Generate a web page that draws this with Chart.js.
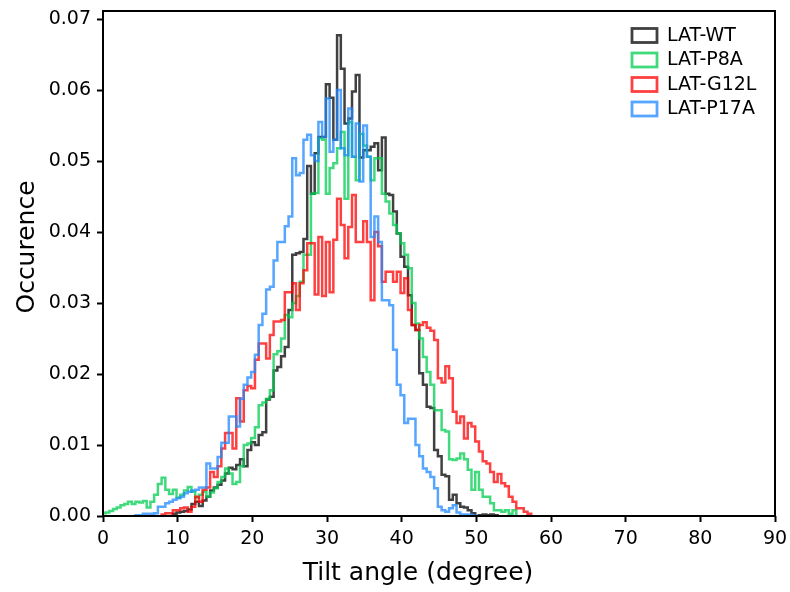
<!DOCTYPE html>
<html>
<head>
<meta charset="utf-8">
<script src="https://cdn.jsdelivr.net/npm/chart.js@4.4.1/dist/chart.umd.min.js"></script>
<style>
  html, body { margin: 0; padding: 0; background: #ffffff; }
  canvas { display: block; }
</style>
</head>
<body>
<canvas id="chart" width="790" height="592"></canvas>
<script>
// Tilt-angle histograms (0.5 degree bins), one array of occurrences per peptide.
const BIN_WIDTH = 0.5;
const X_TICKS = [0, 10, 20, 30, 40, 50, 60, 70, 80, 90];
const Y_TICKS = [0, 0.01, 0.02, 0.03, 0.04, 0.05, 0.06, 0.07];
const SERIES_NAMES = ['LAT-WT', 'LAT-P8A', 'LAT-G12L', 'LAT-P17A'];

// left edge of the first bin of each series
const WT_START = 9.35;
const WT = [
  0.0003, 0.0005, 0.0006, 0.0007, 0.0009, 0.0017, 0.0020, 0.0014, 0.0022, 0.0027,
  0.0036, 0.0040, 0.0044, 0.0050, 0.0060, 0.0068, 0.0066, 0.0072, 0.0080, 0.0070,
  0.0093, 0.0104, 0.0100, 0.0114, 0.0118, 0.0164, 0.0168, 0.0205, 0.0210, 0.0225,
  0.0238, 0.0290, 0.0368, 0.0370, 0.0372, 0.0390, 0.0493, 0.0454, 0.0511, 0.0534,
  0.0534, 0.0608, 0.0589, 0.0530, 0.0677, 0.0630, 0.0553, 0.0560, 0.0598, 0.0621,
  0.0505, 0.0515, 0.0515, 0.0520, 0.0525, 0.0487, 0.0533, 0.0454, 0.0452, 0.0429,
  0.0398, 0.0365, 0.0351, 0.0311, 0.0269, 0.0262, 0.0201, 0.0185, 0.0154, 0.0152,
  0.0093, 0.0084, 0.0058, 0.0056, 0.0023, 0.0030, 0.0018, 0.0013, 0.0012, 0.0008,
  0.0004, 0.0000, 0.0001, 0.0002, 0.0001, 0.0002, 0.0001
];

const P8A_START = -0.15;
const P8A = [
  0.0004, 0.0005, 0.0007, 0.0010, 0.0012, 0.0015, 0.0017, 0.0020, 0.0017, 0.0020,
  0.0019, 0.0021, 0.0012, 0.0020, 0.0030, 0.0045, 0.0054, 0.0037, 0.0031, 0.0037,
  0.0026, 0.0030, 0.0036, 0.0041, 0.0034, 0.0026, 0.0030, 0.0034, 0.0027, 0.0033,
  0.0039, 0.0048, 0.0055, 0.0067, 0.0060, 0.0045, 0.0048, 0.0070, 0.0100, 0.0102,
  0.0110, 0.0125, 0.0156, 0.0160, 0.0165, 0.0177, 0.0228, 0.0232, 0.0250, 0.0283,
  0.0280, 0.0300, 0.0310, 0.0330, 0.0368, 0.0368, 0.0454, 0.0455, 0.0532, 0.0530,
  0.0454, 0.0490, 0.0497, 0.0518, 0.0541, 0.0447, 0.0555, 0.0506, 0.0473, 0.0538,
  0.0522, 0.0506, 0.0473, 0.0504, 0.0504, 0.0454, 0.0443, 0.0426, 0.0410, 0.0398,
  0.0384, 0.0368, 0.0349, 0.0300, 0.0271, 0.0250, 0.0224, 0.0203, 0.0185, 0.0149,
  0.0149, 0.0121, 0.0119, 0.0080, 0.0079, 0.0081, 0.0088, 0.0080, 0.0065, 0.0037,
  0.0062, 0.0037, 0.0027, 0.0027, 0.0018, 0.0008, 0.0008, 0.0006, 0.0008, 0.0003,
  0.0008
];

const G12L_START = 7.85;
const G12L = [
  0.0002, 0.0004, 0.0004, 0.0008, 0.0008, 0.0011, 0.0012, 0.0006, 0.0013, 0.0027,
  0.0020, 0.0037, 0.0040, 0.0062, 0.0055, 0.0070, 0.0095, 0.0117, 0.0117, 0.0095,
  0.0166, 0.0133, 0.0177, 0.0183, 0.0180, 0.0220, 0.0243, 0.0243, 0.0222, 0.0255,
  0.0274, 0.0274, 0.0276, 0.0315, 0.0315, 0.0328, 0.0290, 0.0328, 0.0346, 0.0384,
  0.0384, 0.0312, 0.0393, 0.0310, 0.0386, 0.0315, 0.0389, 0.0447, 0.0410, 0.0363,
  0.0407, 0.0452, 0.0386, 0.0386, 0.0415, 0.0386, 0.0304, 0.0400, 0.0380, 0.0330,
  0.0344, 0.0344, 0.0330, 0.0344, 0.0314, 0.0335, 0.0290, 0.0269, 0.0262, 0.0269,
  0.0273, 0.0265, 0.0261, 0.0248, 0.0194, 0.0188, 0.0211, 0.0194, 0.0147, 0.0131,
  0.0140, 0.0109, 0.0131, 0.0126, 0.0105, 0.0091, 0.0077, 0.0074, 0.0062, 0.0048,
  0.0059, 0.0046, 0.0042, 0.0027, 0.0020, 0.0011, 0.0011, 0.0006, 0.0003
];

const P17A_START = 4.35;
const P17A = [
  0.0001, 0.0001, 0.0003, 0.0003, 0.0003, 0.0004, 0.0013, 0.0013, 0.0018, 0.0020,
  0.0023, 0.0025, 0.0027, 0.0032, 0.0034, 0.0036, 0.0037, 0.0040, 0.0040, 0.0074,
  0.0067, 0.0067, 0.0083, 0.0103, 0.0103, 0.0140, 0.0140, 0.0126, 0.0165, 0.0185,
  0.0195, 0.0203, 0.0227, 0.0269, 0.0285, 0.0319, 0.0323, 0.0360, 0.0386, 0.0386,
  0.0408, 0.0422, 0.0504, 0.0480, 0.0483, 0.0530, 0.0537, 0.0508, 0.0500, 0.0555,
  0.0534, 0.0588, 0.0513, 0.0530, 0.0600, 0.0518, 0.0508, 0.0574, 0.0506, 0.0553,
  0.0471, 0.0550, 0.0506, 0.0393, 0.0422, 0.0386, 0.0304, 0.0304, 0.0297, 0.0234,
  0.0185, 0.0170, 0.0131, 0.0137, 0.0137, 0.0100, 0.0084, 0.0067, 0.0062, 0.0055,
  0.0039, 0.0013, 0.0008, 0.0006, 0.0011, 0.0015, 0.0005, 0.0002, 0.0002, 0.0002,
  0.0001
];

const COLORS = [
  'rgba(0, 0, 0, 0.75)',
  'rgba(0, 205, 80, 0.75)',
  'rgba(255, 0, 0, 0.75)',
  'rgba(30, 136, 255, 0.75)'
];

// Step outline of a histogram: rise at the first edge, run across each bin, drop at the last edge.
function stepPoints(start, values) {
  const pts = [{ x: start, y: 0 }];
  values.forEach((v, i) => pts.push({ x: start + i * BIN_WIDTH, y: v }));
  pts.push({ x: start + values.length * BIN_WIDTH, y: 0 });
  return pts;
}

const SERIES = [
  [WT_START, WT], [P8A_START, P8A], [G12L_START, G12L], [P17A_START, P17A]
];

const datasets = SERIES.map(([start, vals], i) => ({
  label: SERIES_NAMES[i],
  data: stepPoints(start, vals),
  stepped: 'before',
  borderColor: COLORS[i],
  backgroundColor: 'rgba(0,0,0,0)',
  borderWidth: 2.5,
  pointRadius: 0,
  tension: 0,
  fill: false,
  order: SERIES.length - i
}));

const FONT = '"DejaVu Sans", Verdana, sans-serif';

const framePlugin = {
  id: 'frame',
  afterDatasetsDraw(chart) {
    const { ctx, chartArea: a } = chart;
    ctx.save();
    ctx.strokeStyle = '#000';
    ctx.lineWidth = 2;
    ctx.strokeRect(a.left, a.top, a.right - a.left, a.bottom - a.top);
    ctx.restore();
  }
};

const legendPlugin = {
  id: 'boxLegend',
  afterDraw(chart) {
    const { ctx } = chart;
    ctx.save();
    ctx.font = '19px ' + FONT;
    ctx.textBaseline = 'middle';
    ctx.textAlign = 'left';
    SERIES_NAMES.forEach((name, i) => {
      const y = 28.5 + i * 24.5;
      ctx.fillStyle = '#fff';
      ctx.fillRect(632, y, 25, 14);
      ctx.strokeStyle = COLORS[i];
      ctx.lineWidth = 2.8;
      ctx.strokeRect(632, y, 25, 14);
      ctx.fillStyle = '#000';
      ctx.fillText(name, 667, y + 7.5);
    });
    ctx.restore();
  }
};

const titlesPlugin = {
  id: 'axisTitles',
  afterDraw(chart) {
    const { ctx } = chart;
    ctx.save();
    ctx.fillStyle = '#000';
    ctx.font = '25px ' + FONT;
    ctx.textAlign = 'center';
    ctx.textBaseline = 'middle';
    ctx.fillText('Tilt angle (degree)', 418, 573);
    ctx.translate(27, 247);
    ctx.rotate(-Math.PI / 2);
    ctx.fillText('Occurence', 0, 0);
    ctx.restore();
  }
};

new Chart(document.getElementById('chart'), {
  type: 'line',
  data: { datasets },
  options: {
    responsive: false,
    animation: false,
    devicePixelRatio: 1,
    layout: { padding: { left: 0, right: 15, top: 11, bottom: 0 } },
    plugins: { legend: { display: false }, tooltip: { enabled: false } },
    scales: {
      x: {
        type: 'linear',
        min: 0,
        max: 90,
        afterBuildTicks(scale) { scale.ticks = X_TICKS.map(v => ({ value: v })); },
        afterFit(scale) { scale.height = 76; scale.paddingLeft = 0; scale.paddingRight = 0; },
        border: { display: false },
        grid: { display: true, drawOnChartArea: false, drawTicks: true, tickLength: 6, tickWidth: 2, color: '#000' },
        ticks: { color: '#000', font: { family: FONT, size: 19 }, padding: 6, maxRotation: 0 }
      },
      y: {
        type: 'linear',
        min: 0,
        max: 0.07113,
        afterBuildTicks(scale) { scale.ticks = Y_TICKS.map(v => ({ value: v })); },
        afterFit(scale) { scale.width = 103; scale.paddingTop = 0; scale.paddingBottom = 0; },
        border: { display: false },
        grid: { display: true, drawOnChartArea: false, drawTicks: true, tickLength: 6, tickWidth: 2, color: '#000' },
        ticks: { color: '#000', font: { family: FONT, size: 19 }, padding: 6, callback: v => v.toFixed(2) }
      }
    }
  },
  plugins: [framePlugin, legendPlugin, titlesPlugin]
});
</script>
</body>
</html>
